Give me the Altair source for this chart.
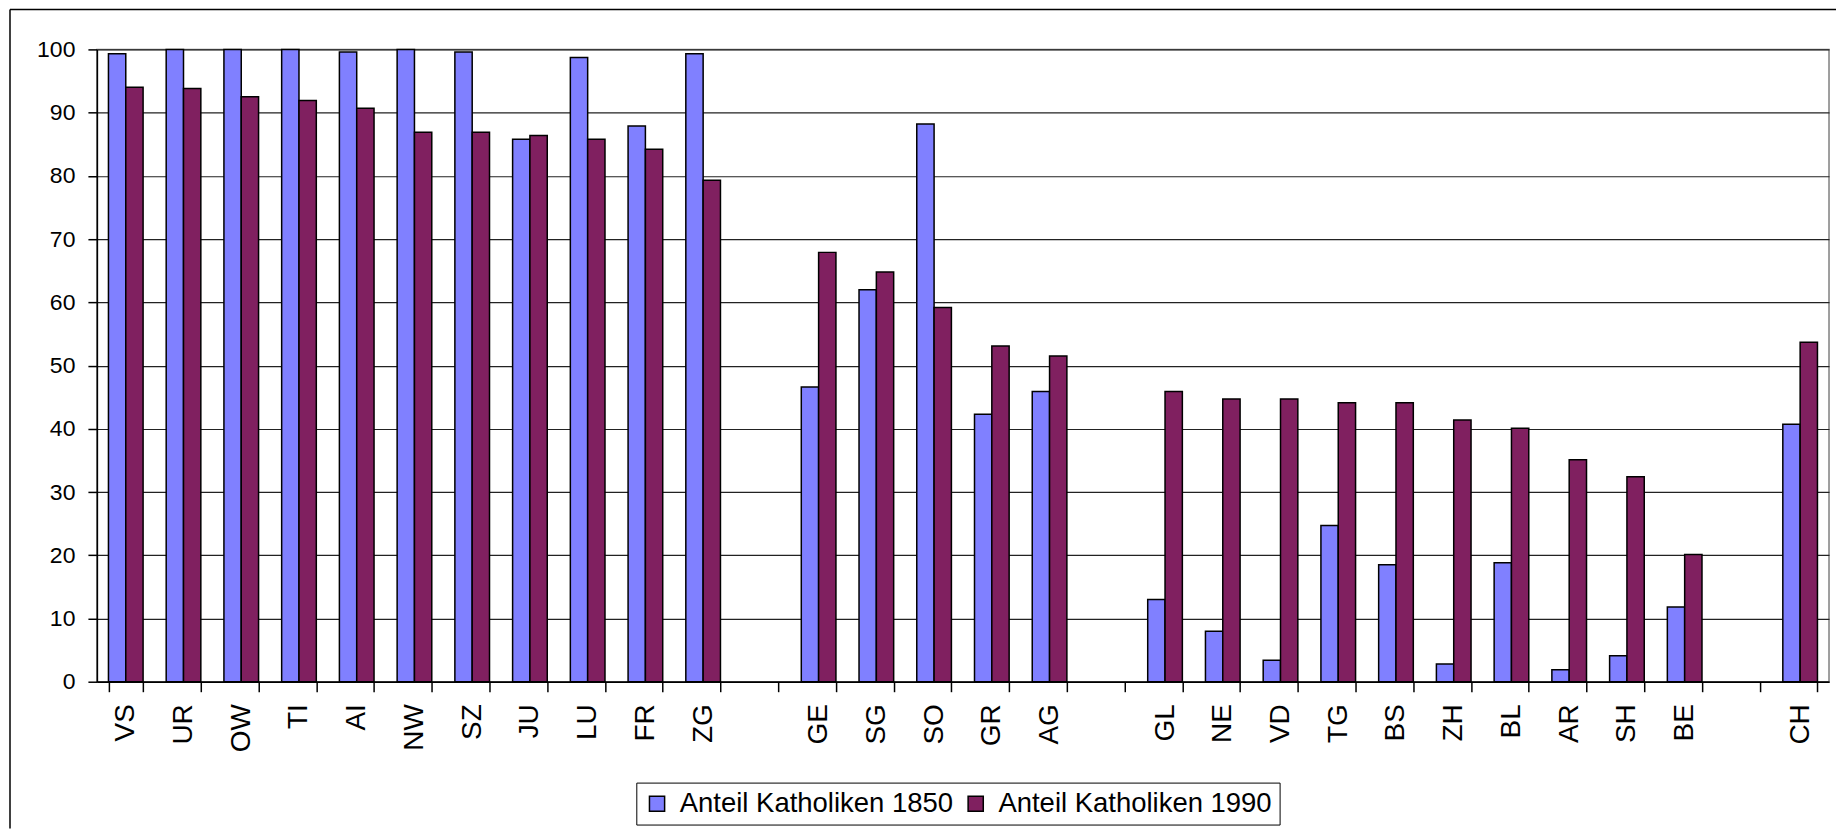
import altair as alt
import pandas as pd

slots = ["VS", "UR", "OW", "TI", "AI", "NW", "SZ", "JU", "LU", "FR", "ZG", " ",
         "GE", "SG", "SO", "GR", "AG", "  ",
         "GL", "NE", "VD", "TG", "BS", "ZH", "BL", "AR", "SH", "BE", "   ",
         "CH"]
cantons = ["VS", "UR", "OW", "TI", "AI", "NW", "SZ", "JU", "LU", "FR", "ZG",
           "GE", "SG", "SO", "GR", "AG",
           "GL", "NE", "VD", "TG", "BS", "ZH", "BL", "AR", "SH", "BE",
           "CH"]
v1850 = [99.3, 100.0, 100.0, 100.0, 99.6, 100.0, 99.6, 85.8, 98.7, 87.9, 99.3,
         46.6, 62.0, 88.2, 42.3, 45.9,
         13.0, 8.0, 3.4, 24.7, 18.5, 2.8, 18.8, 1.9, 4.1, 11.8,
         40.7]
v1990 = [94.0, 93.8, 92.5, 91.9, 90.7, 86.9, 86.9, 86.4, 85.8, 84.2, 79.3,
         67.9, 64.8, 59.2, 53.1, 51.5,
         45.9, 44.7, 44.7, 44.1, 44.1, 41.4, 40.1, 35.1, 32.4, 20.1,
         53.7]
y_ticks = [0, 10, 20, 30, 40, 50, 60, 70, 80, 90, 100]
series = ["Anteil Katholiken 1850", "Anteil Katholiken 1990"]
colors = ["#8080FF", "#802060"]

rows = []
for c, a, b in zip(cantons, v1850, v1990):
    rows.append({"Kanton": c, "Serie": series[0], "Wert": a})
    rows.append({"Kanton": c, "Serie": series[1], "Wert": b})
df = pd.DataFrame(rows)

W, H = 1734, 633

bars = alt.Chart(df).mark_bar(stroke="black", strokeWidth=1.5).encode(
    x=alt.X("Kanton:N", sort=slots,
            scale=alt.Scale(domain=slots, paddingInner=0.4, paddingOuter=0.2),
            axis=alt.Axis(title=None, labelAngle=270, labelAlign="right",
                          labelBaseline="middle", labelFontSize=28,
                          labelColor="black", labelPadding=12,
                          tickBand="extent", tickSize=10, tickColor="black",
                          tickWidth=1.5, domainColor="black", domainWidth=1.5)),
    xOffset=alt.XOffset("Serie:N", sort=series),
    y=alt.Y("Wert:Q", scale=alt.Scale(domain=[0, 100], nice=False),
            axis=alt.Axis(title=None, values=y_ticks,
                          labelFontSize=23, labelColor="black", labelPadding=13,
                          tickSize=9, tickColor="black", tickWidth=1.5,
                          domainColor="black", domainWidth=1.5,
                          gridColor="#222222", gridWidth=1.2)),
    color=alt.Color("Serie:N", sort=series,
                    scale=alt.Scale(domain=series, range=colors),
                    legend=alt.Legend(title=None, orient="none",
                                      direction="horizontal",
                                      legendX=540, legendY=734,
                                      labelLimit=0,
                                      symbolType="square", symbolSize=230,
                                      symbolStrokeColor="black",
                                      symbolStrokeWidth=1.5,
                                      labelFontSize=27.5, labelColor="black",
                                      columnPadding=8, labelOffset=9,
                                      padding=7, strokeColor="black",
                                      fillColor="white")),
)

# outer chart frame (decorative): top and left edges only
frame_data = alt.Data(values=[{"f": 1}])
frame_top = alt.Chart(frame_data).mark_rule(color="black", strokeWidth=1.5).encode(
    x=alt.value(-87), x2=alt.value(W + 7), y=alt.value(-40),
)
frame_left = alt.Chart(frame_data).mark_rule(color="black", strokeWidth=1.5).encode(
    x=alt.value(-87), y=alt.value(-40), y2=alt.value(H + 147),
)

chart = alt.layer(bars, frame_top, frame_left).properties(
    width=W, height=H,
    padding={"left": 1, "top": 0, "right": 0, "bottom": 0},
).configure(
    font="Liberation Sans",
).configure_view(
    stroke="#808080", strokeWidth=1.5,
)

chart.save("out.html", embed_options={"renderer": "svg", "actions": False})
